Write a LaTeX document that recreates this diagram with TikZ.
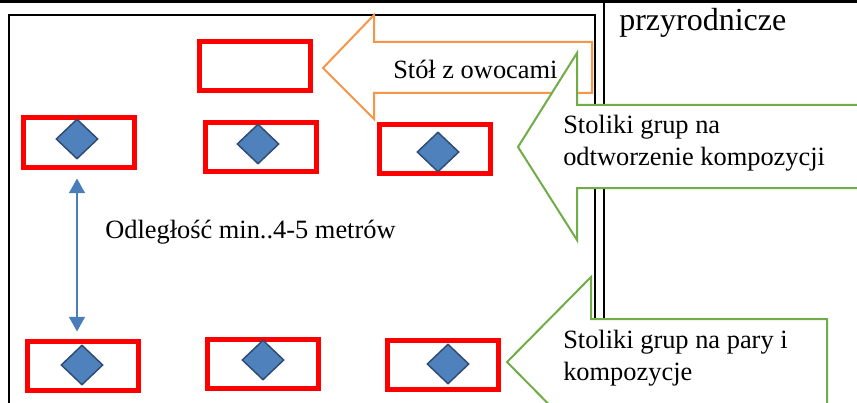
\documentclass[tikz,border=0pt]{standalone}
\usepackage{fontspec}
\setmainfont{Liberation Serif}
\usetikzlibrary{shapes.geometric,arrows.meta}
\definecolor{deskred}{HTML}{FF0000}
\definecolor{seatblue}{HTML}{4F81BD}
\definecolor{seatedge}{HTML}{2F4B72}
\definecolor{fruitorange}{HTML}{F79646}
\definecolor{groupgreen}{HTML}{70AD47}
\definecolor{distblue}{HTML}{4A7EBB}

\begin{document}
\begin{tikzpicture}[x=0.75pt,y=-0.75pt]

% Styles
\tikzset{
    desk/.style={draw=deskred, line width=3.75pt, minimum width=83.25pt,
        minimum height=36.75pt, inner sep=0pt},
    seat/.style={diamond, fill=seatblue, draw=seatedge, line width=1.1pt,
        minimum width=31.5pt, minimum height=30pt, inner sep=0pt},
    roomtext/.style={font=\fontsize{19.8}{24}\selectfont, inner sep=0pt,
        align=left, anchor=base west},
    calloutbox/.style={fill=white, line width=1.5pt, line join=miter},
    distarrow/.style={draw=distblue, line width=1.1pt,
        {Triangle[length=11pt,width=12pt]}-{Triangle[length=11pt,width=12pt]}},
}
\clip (0,0) rectangle (857,403);
\fill[white] (0,0) rectangle (857,403);

% Page frame
\draw[line width=2pt] (0,1.5) -- (857,1.5);
\draw[line width=1.5pt] (604,0) -- (604,420);
\draw[line width=1.5pt] (9,420) -- (9,15) -- (595,15) -- (595,420);
\node[roomtext, font=\fontsize{24}{28}\selectfont] (subject) at (619,31) {przyrodnicze};

% Orange callout
\draw[calloutbox, draw=fruitorange]
    (374,42) -- (374,15) -- (323,68) -- (374,119) -- (374,93)
    -- (592,93) -- (592,42) -- cycle;
\node[roomtext] (fruit) at (393,79) {Stół z owocami};

% Green callouts
\draw[calloutbox, draw=groupgreen]
    (577,105) -- (577,53) -- (518,147) -- (577,240) -- (577,188)
    -- (870,188) -- (870,105) -- cycle;
\node[roomtext] (rebuild) at (563,165) {Stoliki grup na\\odtworzenie kompozycji};

\draw[calloutbox, draw=groupgreen]
    (591,319) -- (591,277) -- (507,362) -- (591,447) -- (591,430)
    -- (827,430) -- (827,319) -- cycle;
\node[roomtext] (pairs) at (563,380) {Stoliki grup na pary i\\kompozycje};

% Tables
\node[desk] (fruittable) at (254.5,66.5) {};
\node[desk] (desk11) at (79,142.5) {};
\node[desk] (desk12) at (260.5,147) {};
\node[desk] (desk13) at (434.5,149) {};
\node[desk] (desk21) at (83,365.5) {};
\node[desk] (desk22) at (263,364) {};
\node[desk] (desk23) at (442.5,364.5) {};

% Groups on the tables
\node[seat] (seat11) at (77,139) {};
\node[seat] (seat12) at (258,144) {};
\node[seat] (seat13) at (438,152) {};
\node[seat] (seat21) at (82,365) {};
\node[seat] (seat22) at (263,360) {};
\node[seat] (seat23) at (448,364) {};

% Distance
\draw[distarrow, shorten <=6.75pt, shorten >=5.25pt]
    (desk11.south -| seat11) -- (desk21.north -| seat11);
\node[roomtext] (distance) at (105,238) {Odległość min..4-5 metrów};
\end{tikzpicture}
\end{document}
